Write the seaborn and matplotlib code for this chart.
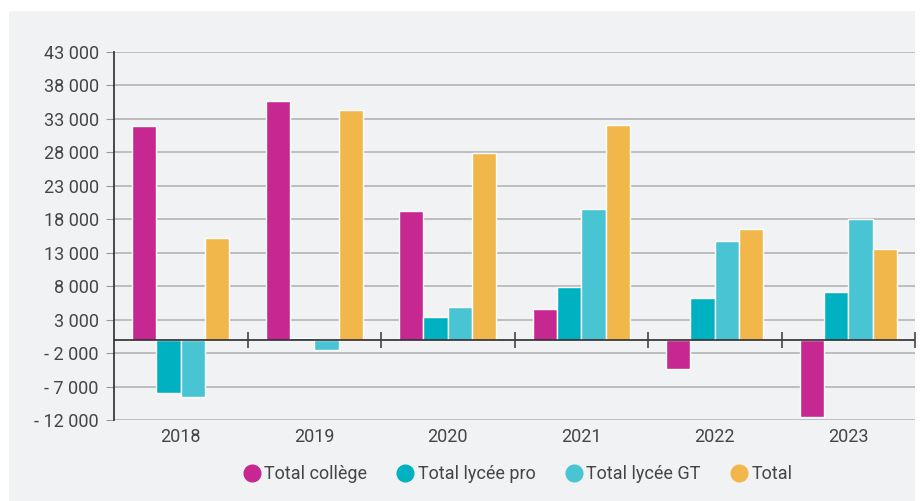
import numpy as np
import matplotlib
matplotlib.use("Agg")
import matplotlib.pyplot as plt
from matplotlib.lines import Line2D
from matplotlib.patches import Rectangle
from matplotlib.ticker import FuncFormatter
import pandas as pd
import seaborn as sns

years = ["2018", "2019", "2020", "2021", "2022", "2023"]
series = ["Total collège", "Total lycée pro", "Total lycée GT", "Total"]
college = [32000, 35700, 19200, 4600, -4400, -11500]
lycee_pro = [-8000, 200, 3400, 7900, 6300, 7200]
lycee_gt = [-8600, -1500, 4900, 19500, 14700, 18000]
total = [15200, 34300, 27900, 32100, 16500, 13500]
colors = ["#c62790", "#00b1c1", "#48c4d3", "#f2b74b"]
yticks = list(range(-12000, 43001, 5000))

df = pd.DataFrame({"year": years * 4,
                   "serie": np.repeat(series, len(years)),
                   "value": college + lycee_pro + lycee_gt + total})

sns.set_style("white")
plt.rcParams["font.family"] = ["Roboto", "DejaVu Sans"]
txt = "#454545"

fig = plt.figure(figsize=(9.24, 5.01), dpi=100)
fig.patches.append(Rectangle((9 / 924, 0), 906 / 924, 490 / 501,
                             transform=fig.transFigure, facecolor="#f1f2f4",
                             edgecolor="none", zorder=-5))
ax = fig.add_axes([114 / 924, 1 - 420 / 501, 801 / 924, 368 / 501])
ax.set_facecolor("none")

sns.barplot(data=df, x="year", y="value", hue="serie", palette=colors,
            saturation=1, width=0.73, edgecolor="white", linewidth=1,
            legend=False, ax=ax, zorder=3)

ax.set_ylim(-12000, 43000)
ax.set_xlim(-0.5, len(years) - 0.5)
ax.set_yticks(yticks)
ax.yaxis.set_major_formatter(FuncFormatter(
    lambda v, p: ("- " if v < 0 else "") + f"{abs(int(v)):,}".replace(",", " ")))
for v in yticks:
    ax.axhline(v, color="#b9b9b9", lw=1.3, zorder=1)
ax.axhline(0, color="#2b2b2b", lw=1.2, zorder=4)
bounds = np.arange(len(years)) + 0.5
ax.plot(bounds, np.zeros(len(bounds)), ls="none", marker="|", ms=11,
        mew=1.2, color="#444444", zorder=4, clip_on=False)

for s in ["top", "right", "bottom"]:
    ax.spines[s].set_visible(False)
ax.spines["left"].set_color("#2b2b2b")
ax.spines["left"].set_linewidth(1.2)
ax.tick_params(axis="y", length=6, color="#999999", labelsize=13,
               labelcolor=txt, pad=5, left=True)
ax.tick_params(axis="x", length=0, labelsize=13, labelcolor=txt, pad=6)
ax.set_xlabel("")
ax.set_ylabel("")

handles = [Line2D([], [], ls="none", marker="o", ms=12, color=c) for c in colors]
fig.legend(handles, series, loc="center", bbox_to_anchor=(0.559, 0.054),
           ncol=4, frameon=False, fontsize=13, labelcolor=txt,
           handletextpad=0.1, columnspacing=1.5, handlelength=1.2)

fig.savefig("out.png", dpi=100, facecolor="white")
